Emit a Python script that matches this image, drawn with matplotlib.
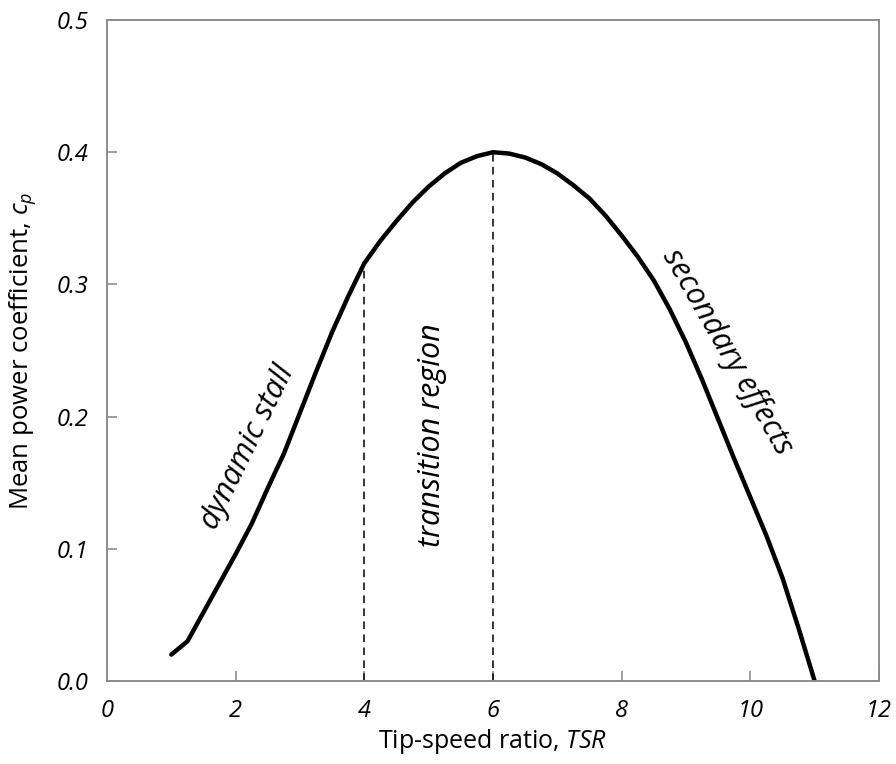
# mean power coefficient vs tip-speed ratio

import matplotlib
matplotlib.use('Agg')
import matplotlib.pyplot as plt

# curve values
tsr = [1.0, 1.25, 1.5, 1.75, 2.0, 2.25, 2.5, 2.75, 3.0, 3.25, 3.5, 3.75,
       4.0, 4.25, 4.5, 4.75, 5.0, 5.25, 5.5, 5.75, 6.0, 6.25, 6.5, 6.75,
       7.0, 7.25, 7.5, 7.75, 8.0, 8.25, 8.5, 8.75, 9.0, 9.25, 9.5, 9.75,
       10.0, 10.25, 10.5, 10.75, 11.0]
cp = [0.020, 0.030, 0.052, 0.074, 0.096, 0.119, 0.146, 0.172, 0.203, 0.234, 0.264, 0.291,
      0.316, 0.333, 0.348, 0.362, 0.374, 0.384, 0.392, 0.397, 0.400, 0.399, 0.396, 0.391,
      0.384, 0.375, 0.365, 0.352, 0.337, 0.321, 0.303, 0.281, 0.256, 0.228, 0.198, 0.168,
      0.139, 0.110, 0.078, 0.040, 0.0]

# region boundaries (dashed lines)
bound_x = [4.0, 6.0]
bound_y = [0.316, 0.400]

# region labels: text, x, y, rotation
labels = [
    ('dynamic stall', 2.18, 0.177, 64),
    ('transition region', 5.05, 0.186, 90),
    ('secondary effects', 9.64, 0.249, -60),
]

x_ticks = [0, 2, 4, 6, 8, 10, 12]
y_ticks = [0.0, 0.1, 0.2, 0.3, 0.4, 0.5]

plt.rcParams['font.family'] = ['Open Sans', 'DejaVu Sans']
plt.rcParams['mathtext.fontset'] = 'custom'
plt.rcParams['mathtext.it'] = 'Open Sans:italic'
plt.rcParams['mathtext.rm'] = 'Open Sans'

fig = plt.figure(figsize=(8.96, 7.64), dpi=100)
ax = fig.add_axes([0.1194, 0.1086, 0.8616, 0.8652])

ax.plot(tsr, cp, color='black', linewidth=3.2, solid_capstyle='round')

for bx, by in zip(bound_x, bound_y):
    ax.plot([bx, bx], [0, by], color='black', linewidth=1.1, linestyle=(0, (5, 3.5)))

for txt, lx, ly, rot in labels:
    ax.text(lx, ly, txt, rotation=rot, ha='center', va='center',
            fontsize=22, style='italic', rotation_mode='anchor')

ax.set_xlim(0, 12)
ax.set_ylim(0, 0.5)
ax.set_xticks(x_ticks)
ax.set_yticks(y_ticks)
ax.set_xticklabels([str(t) for t in x_ticks], style='italic')
ax.set_yticklabels(['%.1f' % t for t in y_ticks], style='italic')

for s in ax.spines.values():
    s.set_color('#8c8c8c')
    s.set_linewidth(1.4)
ax.tick_params(direction='in', length=7, width=1.2, color='#8c8c8c',
               labelsize=17, pad=13)

ax.set_xlabel('Tip-speed ratio, $\\mathit{TSR}$', fontsize=18, labelpad=3)
ax.set_ylabel('Mean power coefficient, $\\mathit{c_p}$', fontsize=18.5)
ax.yaxis.set_label_coords(-0.09, 0.5)

fig.savefig('out.png', dpi=100)
